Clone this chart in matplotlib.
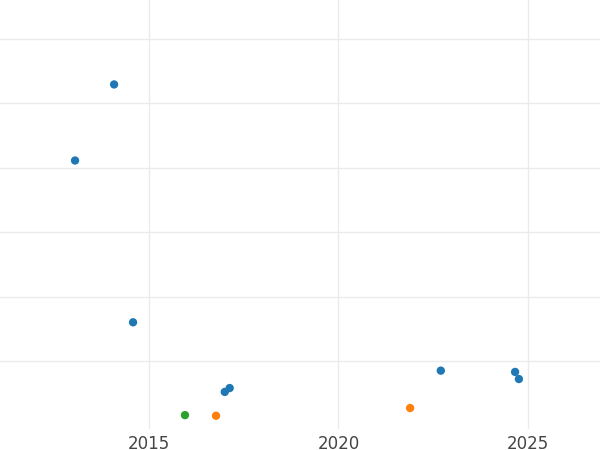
import matplotlib.pyplot as plt

# data
years = [2014.08, 2013.05, 2014.58, 2017.0, 2017.13, 2015.95, 2016.77, 2021.89, 2022.7, 2024.66, 2024.76]
values = [5.29, 4.11, 1.60, 0.52, 0.58, 0.16, 0.15, 0.27, 0.85, 0.83, 0.72]
groups = ['b', 'b', 'b', 'b', 'b', 'g', 'o', 'o', 'b', 'b', 'b']
palette = {'b': '#1f77b4', 'o': '#ff7f0e', 'g': '#2ca02c'}

fig = plt.figure(figsize=(6, 4.5), dpi=100)
ax = fig.add_axes([0, 0.046, 1, 0.954])
ax.scatter(years, values, c=[palette[g] for g in groups], s=36, zorder=3, linewidths=0)

ax.set_xlim(2011.07, 2026.9)
ax.set_ylim(-0.06, 6.6)
ax.set_xticks([2015, 2020, 2025])
ax.set_yticks([1, 2, 3, 4, 5, 6])
ax.set_yticklabels([])
ax.tick_params(axis='y', length=0)
ax.tick_params(axis='x', length=0, labelsize=12, labelcolor='#444444', pad=4)
ax.grid(True, color='#ebebeb', linewidth=1, zorder=0)
for s in ax.spines.values():
    s.set_visible(False)

fig.savefig('out.png', dpi=100)
